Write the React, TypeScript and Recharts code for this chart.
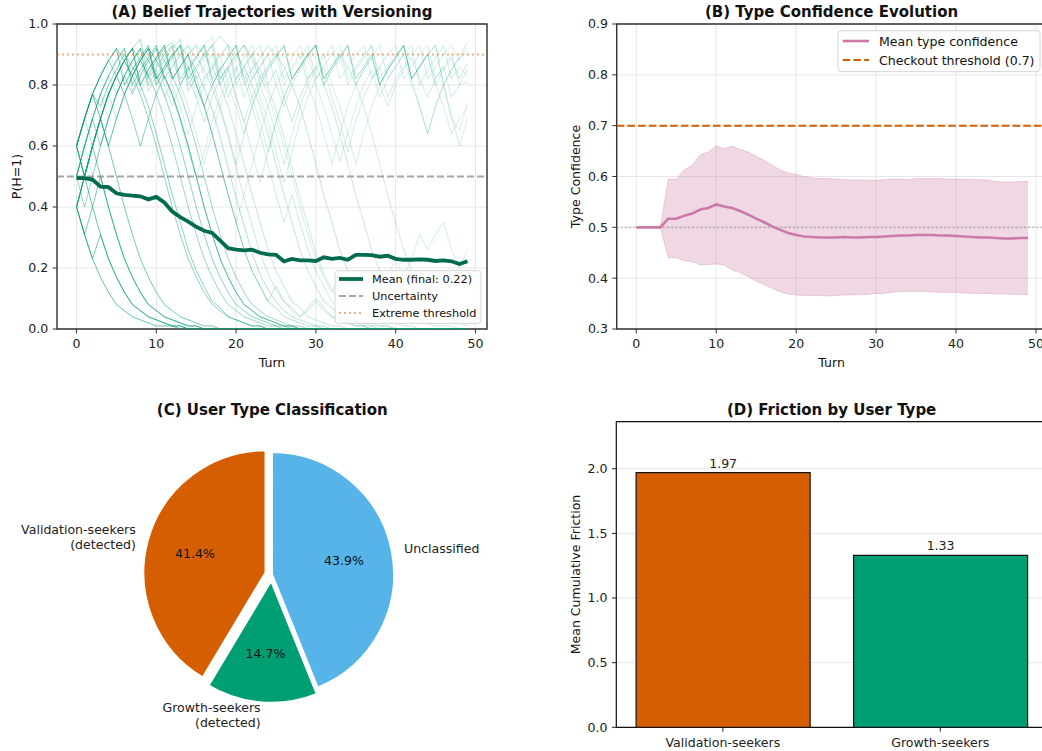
import React from 'react';
import {
  LineChart, Line, XAxis, YAxis, CartesianGrid, ReferenceLine, ReferenceArea,
  ComposedChart, Area, PieChart, Pie, Cell, BarChart, Bar, LabelList,
} from 'recharts';

const FONT = '"DejaVu Sans", Verdana, sans-serif';

// ---------- Panel A: belief trajectories ----------
const meanBelief = [
  0.495, 0.495, 0.49, 0.467, 0.465, 0.445, 0.44, 0.437, 0.435, 0.425,
  0.433, 0.415, 0.385, 0.367, 0.352, 0.335, 0.322, 0.315, 0.29, 0.265,
  0.26, 0.258, 0.26, 0.25, 0.245, 0.243, 0.222, 0.23, 0.225, 0.225,
  0.223, 0.235, 0.23, 0.233, 0.227, 0.243, 0.243, 0.242, 0.237, 0.24,
  0.23, 0.227, 0.227, 0.228, 0.227, 0.223, 0.225, 0.222, 0.213, 0.222,
];

const trajD01 = [0.40,0.31,0.23,0.17,0.12,0.08,0.06,0.04,0.03,0.02, 0.01,0.01,0.01,0,0,0,0,0,0,0, 0,0,0,0,0,0,0,0,0,0, 0,0,0,0,0,0,0,0,0,0, 0,0,0,0,0,0,0,0,0,0];
const trajD02 = [0.60,0.50,0.40,0.31,0.23,0.17,0.12,0.08,0.06,0.04, 0.03,0.02,0.01,0.01,0,0,0,0,0,0, 0,0,0,0,0,0,0,0,0,0, 0,0,0,0,0,0,0,0,0,0, 0,0,0,0,0,0,0,0,0,0];
const trajD03 = [0.40,0.50,0.60,0.50,0.40,0.31,0.23,0.17,0.12,0.08, 0.06,0.04,0.03,0.02,0.01,0.01,0,0,0,0, 0,0,0,0,0,0,0,0,0,0, 0,0,0,0,0,0,0,0,0,0, 0,0,0,0,0,0,0,0,0,0];
const trajD04 = [0.60,0.69,0.77,0.69,0.60,0.50,0.40,0.31,0.23,0.17, 0.12,0.08,0.06,0.04,0.03,0.02,0.01,0.01,0,0, 0,0,0,0,0,0,0,0,0,0, 0,0,0,0,0,0,0,0,0,0, 0,0,0,0,0,0,0,0,0,0];
const trajD05 = [0.60,0.69,0.77,0.73,0.80,0.85,0.90,0.86,0.80,0.73, 0.64,0.54,0.44,0.35,0.26,0.19,0.14,0.09,0.07,0.04, 0.03,0.02,0.01,0.01,0,0,0,0,0,0, 0,0,0,0,0,0,0,0,0,0, 0,0,0,0,0,0,0,0,0,0];
const trajD06 = [0.40,0.31,0.40,0.50,0.40,0.31,0.23,0.17,0.12,0.08, 0.06,0.04,0.03,0.02,0.01,0.01,0,0,0,0, 0,0,0,0,0,0,0,0,0,0, 0,0,0,0,0,0,0,0,0,0, 0,0,0,0,0,0,0,0,0,0];
const trajD07 = [0.50,0.60,0.69,0.60,0.69,0.77,0.83,0.88,0.92,0.88, 0.83,0.77,0.69,0.60,0.50,0.40,0.31,0.23,0.17,0.12, 0.08,0.06,0.04,0.03,0.02,0.01,0.01,0,0,0, 0,0,0,0,0,0,0,0,0,0, 0,0,0,0,0,0,0,0,0,0];
const trajD08 = [0.60,0.50,0.60,0.69,0.77,0.83,0.77,0.83,0.88,0.92, 0.88,0.83,0.77,0.69,0.60,0.50,0.40,0.31,0.23,0.17, 0.12,0.08,0.06,0.04,0.03,0.02,0.01,0.01,0,0, 0,0,0,0,0,0,0,0,0,0, 0,0,0,0,0,0,0,0,0,0];
const trajD09 = [0.40,0.50,0.60,0.69,0.60,0.69,0.77,0.83,0.88,0.83, 0.88,0.92,0.94,0.90,0.86,0.80,0.73,0.64,0.54,0.44, 0.35,0.26,0.19,0.14,0.09,0.07,0.04,0.03,0.02,0.01, 0.01,0,0,0,0,0,0,0,0,0, 0,0,0,0,0,0,0,0,0,0];
const trajD10 = [0.60,0.69,0.60,0.69,0.77,0.83,0.88,0.83,0.88,0.92, 0.82,0.86,0.90,0.93,0.89,0.85,0.79,0.72,0.63,0.53, 0.43,0.34,0.25,0.18,0.13,0.09,0.06,0.04,0.03,0.02, 0.01,0.01,0,0,0,0,0,0,0,0, 0,0,0,0,0,0,0,0,0,0];
const trajD11 = [0.50,0.60,0.69,0.77,0.83,0.77,0.83,0.88,0.92,0.78, 0.83,0.88,0.92,0.95,0.82,0.86,0.90,0.93,0.96,0.93, 0.90,0.86,0.80,0.73,0.64,0.54,0.44,0.35,0.26,0.19, 0.14,0.09,0.07,0.04,0.03,0.02,0.01,0.01,0,0, 0,0,0,0,0,0,0,0,0,0];
const trajD12 = [0.40,0.50,0.60,0.69,0.77,0.69,0.77,0.83,0.88,0.92, 0.80,0.85,0.89,0.93,0.78,0.83,0.73,0.80,0.85,0.89, 0.93,0.80,0.85,0.89,0.93,0.90,0.86,0.80,0.73,0.64, 0.54,0.44,0.35,0.26,0.19,0.14,0.09,0.07,0.04,0.03, 0.02,0.01,0.01,0,0,0,0,0,0,0];
const trajD13 = [0.60,0.50,0.60,0.69,0.60,0.69,0.77,0.69,0.60,0.69, 0.77,0.83,0.77,0.69,0.60,0.50,0.40,0.31,0.23,0.17, 0.12,0.08,0.06,0.04,0.03,0.02,0.01,0.01,0,0, 0,0,0,0,0,0,0,0,0,0, 0,0,0,0,0,0,0,0,0,0];
const trajD14 = [0.50,0.60,0.69,0.77,0.83,0.88,0.92,0.78,0.83,0.88, 0.92,0.80,0.73,0.80,0.85,0.89,0.93,0.82,0.86,0.76, 0.82,0.86,0.90,0.93,0.80,0.85,0.76,0.68,0.76,0.82, 0.86,0.80,0.73,0.64,0.54,0.44,0.35,0.26,0.19,0.14, 0.09,0.07,0.04,0.03,0.02,0.01,0.01,0.01,0,0];
const trajD15 = [0.40,0.50,0.60,0.69,0.77,0.83,0.88,0.92,0.80,0.85, 0.89,0.93,0.82,0.86,0.90,0.80,0.73,0.64,0.54,0.44, 0.35,0.26,0.19,0.14,0.09,0.14,0.09,0.07,0.04,0.07, 0.10,0.07,0.04,0.03,0.02,0.01,0.01,0,0,0, 0,0,0,0,0,0,0,0,0,0];
const trajD16 = [0.50,0.40,0.50,0.60,0.69,0.77,0.83,0.77,0.83,0.88, 0.92,0.88,0.83,0.77,0.69,0.60,0.50,0.40,0.31,0.23, 0.17,0.12,0.08,0.06,0.04,0.03,0.02,0.01,0.01,0, 0,0,0,0,0,0,0,0,0,0, 0,0,0,0,0,0,0,0,0,0];
const trajD17 = [0.60,0.69,0.77,0.83,0.88,0.92,0.88,0.83,0.77,0.69, 0.60,0.50,0.40,0.31,0.23,0.17,0.12,0.08,0.06,0.04, 0.03,0.02,0.01,0.01,0,0,0,0,0,0, 0,0,0,0,0,0,0,0,0,0, 0,0,0,0,0,0,0,0,0,0];
const trajD18 = [0.50,0.60,0.69,0.77,0.83,0.88,0.92,0.80,0.85,0.89, 0.93,0.82,0.86,0.90,0.93,0.89,0.85,0.79,0.72,0.63, 0.53,0.43,0.34,0.25,0.18,0.13,0.09,0.06,0.04,0.06, 0.09,0.06,0.04,0.03,0.02,0.01,0.01,0,0,0, 0,0,0,0,0,0,0,0,0,0];
const trajD19 = [0.40,0.31,0.23,0.31,0.23,0.17,0.12,0.08,0.06,0.04, 0.03,0.02,0.01,0.01,0,0,0,0,0,0, 0,0,0,0,0,0,0,0,0,0, 0,0,0,0,0,0,0,0,0,0, 0,0,0,0,0,0,0,0,0,0];
const trajD20 = [0.60,0.69,0.77,0.83,0.88,0.83,0.88,0.92,0.88,0.83, 0.77,0.69,0.60,0.50,0.40,0.31,0.23,0.17,0.12,0.08, 0.06,0.04,0.03,0.02,0.01,0.01,0,0,0,0, 0,0,0,0,0,0,0,0,0,0, 0,0,0,0,0,0,0,0,0,0];
const trajD21 = [0.60,0.69,0.77,0.83,0.88,0.92,0.80,0.85,0.89,0.93, 0.82,0.86,0.90,0.93,0.80,0.85,0.89,0.93,0.82,0.86, 0.90,0.93,0.89,0.85,0.79,0.72,0.63,0.53,0.43,0.34, 0.25,0.18,0.13,0.09,0.06,0.04,0.03,0.02,0.01,0.01, 0,0,0,0,0,0,0,0,0,0];
const trajD22 = [0.40,0.50,0.60,0.69,0.77,0.83,0.88,0.92,0.80,0.85, 0.89,0.93,0.82,0.86,0.90,0.93,0.90,0.86,0.80,0.73, 0.64,0.54,0.44,0.35,0.26,0.19,0.14,0.09,0.07,0.04, 0.03,0.02,0.01,0.01,0,0,0,0,0,0, 0,0,0,0,0,0,0,0,0,0];

const trajU01 = [0.60,0.69,0.77,0.83,0.88,0.92,0.80,0.85,0.89,0.93, 0.82,0.86,0.90,0.93,0.82,0.76,0.82,0.86,0.90,0.93, 0.80,0.85,0.76,0.82,0.86,0.90,0.93,0.82,0.86,0.90, 0.93,0.80,0.85,0.89,0.93,0.82,0.86,0.90,0.80,0.85, 0.89,0.93,0.82,0.86,0.90,0.93,0.80,0.85,0.89,0.94];
const trajU02 = [0.50,0.60,0.69,0.77,0.69,0.77,0.83,0.88,0.92,0.80, 0.85,0.89,0.93,0.82,0.86,0.76,0.68,0.76,0.82,0.86, 0.90,0.93,0.82,0.86,0.90,0.80,0.73,0.80,0.85,0.89, 0.93,0.82,0.86,0.90,0.93,0.80,0.85,0.89,0.80,0.85, 0.89,0.93,0.82,0.86,0.90,0.80,0.85,0.89,0.82,0.87];
const trajU03 = [0.40,0.50,0.60,0.69,0.77,0.83,0.88,0.92,0.78,0.83, 0.88,0.92,0.80,0.73,0.64,0.73,0.80,0.85,0.89,0.93, 0.82,0.86,0.90,0.80,0.73,0.64,0.54,0.64,0.73,0.80, 0.85,0.89,0.93,0.82,0.86,0.90,0.93,0.82,0.86,0.76, 0.82,0.86,0.90,0.93,0.82,0.86,0.90,0.93,0.88,0.91];
const trajU04 = [0.60,0.69,0.77,0.69,0.77,0.83,0.88,0.92,0.95,0.82, 0.86,0.90,0.93,0.80,0.85,0.89,0.93,0.96,0.82,0.86, 0.76,0.68,0.58,0.48,0.58,0.68,0.76,0.82,0.86,0.90, 0.93,0.80,0.85,0.89,0.93,0.82,0.86,0.90,0.80,0.73, 0.80,0.85,0.89,0.82,0.76,0.82,0.86,0.76,0.80,0.81];
const trajU05 = [0.50,0.60,0.50,0.60,0.69,0.77,0.83,0.88,0.92,0.80, 0.85,0.76,0.82,0.86,0.90,0.93,0.82,0.86,0.90,0.80, 0.73,0.64,0.73,0.80,0.85,0.89,0.93,0.82,0.86,0.90, 0.80,0.73,0.64,0.55,0.64,0.73,0.80,0.85,0.76,0.82, 0.86,0.90,0.80,0.73,0.64,0.73,0.80,0.69,0.65,0.74];
const trajU06 = [0.40,0.50,0.60,0.69,0.77,0.83,0.88,0.83,0.88,0.92, 0.80,0.85,0.89,0.93,0.82,0.86,0.90,0.93,0.80,0.85, 0.76,0.68,0.76,0.68,0.58,0.68,0.76,0.82,0.86,0.90, 0.93,0.82,0.86,0.90,0.80,0.85,0.89,0.93,0.82,0.86, 0.90,0.93,0.82,0.73,0.64,0.73,0.80,0.70,0.60,0.69];
const trajU07 = [0.60,0.50,0.60,0.69,0.77,0.83,0.77,0.83,0.88,0.92, 0.80,0.85,0.89,0.80,0.73,0.64,0.54,0.64,0.73,0.80, 0.85,0.89,0.93,0.82,0.86,0.90,0.80,0.85,0.89,0.93, 0.82,0.86,0.76,0.68,0.58,0.68,0.76,0.82,0.86,0.90, 0.93,0.82,0.86,0.90,0.93,0.82,0.86,0.90,0.80,0.85];
const trajU08 = [0.50,0.60,0.69,0.77,0.83,0.88,0.92,0.80,0.85,0.89, 0.93,0.82,0.76,0.68,0.58,0.50,0.58,0.68,0.76,0.82, 0.86,0.76,0.82,0.86,0.90,0.93,0.82,0.86,0.90,0.80, 0.73,0.64,0.54,0.64,0.73,0.80,0.85,0.89,0.93,0.82, 0.86,0.90,0.93,0.80,0.85,0.89,0.93,0.82,0.86,0.83];
const trajU09 = [0.60,0.69,0.77,0.83,0.77,0.83,0.88,0.92,0.80,0.85, 0.89,0.93,0.82,0.86,0.90,0.80,0.73,0.64,0.54,0.44, 0.35,0.44,0.54,0.64,0.73,0.80,0.85,0.89,0.93,0.82, 0.86,0.90,0.80,0.73,0.64,0.54,0.64,0.73,0.80,0.85, 0.89,0.93,0.82,0.86,0.90,0.80,0.73,0.64,0.69,0.73];
const trajU10 = [0.40,0.50,0.60,0.69,0.77,0.83,0.88,0.92,0.95,0.82, 0.86,0.90,0.93,0.82,0.86,0.90,0.93,0.80,0.85,0.89, 0.93,0.82,0.86,0.76,0.68,0.58,0.48,0.58,0.68,0.76, 0.82,0.86,0.90,0.93,0.82,0.86,0.90,0.93,0.80,0.85, 0.89,0.93,0.82,0.86,0.90,0.93,0.80,0.85,0.89,0.92];

const trajM01 = [0.60,0.69,0.77,0.83,0.88,0.92,0.80,0.85,0.89,0.93, 0.82,0.86,0.90,0.80,0.85,0.89,0.93,0.82,0.73,0.64, 0.54,0.64,0.73,0.80,0.85,0.89,0.93,0.82,0.86,0.90, 0.93,0.82,0.86,0.90,0.86,0.80,0.73,0.64,0.54,0.44, 0.35,0.26,0.19,0.14,0.09,0.07,0.04,0.03,0.02,0.01];
const trajM02 = [0.50,0.60,0.69,0.77,0.83,0.88,0.92,0.80,0.85,0.89, 0.93,0.82,0.86,0.90,0.93,0.82,0.86,0.90,0.80,0.85, 0.89,0.93,0.88,0.83,0.77,0.69,0.60,0.50,0.40,0.31, 0.23,0.17,0.12,0.17,0.12,0.08,0.12,0.17,0.12,0.17, 0.23,0.17,0.23,0.31,0.26,0.31,0.35,0.26,0.20,0.26];
const trajM03 = [0.40,0.50,0.60,0.69,0.77,0.83,0.88,0.92,0.80,0.85, 0.89,0.93,0.82,0.86,0.90,0.80,0.73,0.80,0.85,0.89, 0.93,0.82,0.73,0.64,0.54,0.44,0.35,0.44,0.35,0.26, 0.19,0.14,0.09,0.07,0.04,0.03,0.02,0.01,0.01,0.01, 0,0,0,0,0,0,0,0,0,0];

const trajectories = [
  trajD01, trajD02, trajD03, trajD04, trajD05, trajD06, trajD07, trajD08, trajD13, trajD16,
  trajD17, trajD19, trajD20,
  trajD09, trajD10, trajD11, trajD12, trajD14, trajD15, trajD18, trajD21, trajD22,
  trajU01, trajU02, trajU03, trajU04, trajU05, trajU06, trajU07, trajU08, trajU09, trajU10,
  trajM01, trajM02, trajM03,
];
// line opacity per trajectory (style)
const trajOpacity = [
  0.6, 0.6, 0.55, 0.55, 0.45, 0.55, 0.45, 0.45, 0.45, 0.4,
  0.45, 0.55, 0.4,
  0.3, 0.3, 0.25, 0.25, 0.22, 0.25, 0.22, 0.22, 0.25,
  0.2, 0.2, 0.18, 0.18, 0.16, 0.18, 0.18, 0.18, 0.16, 0.18,
  0.2, 0.18, 0.2,
];

const beliefData = meanBelief.map((m, i) => {
  const row: Record<string, number> = { turn: i, mean: m };
  trajectories.forEach((tr, k) => { row['s' + k] = tr[i]; });
  return row;
});

// ---------- Panel B: type confidence ----------
const confMean = [
  0.50, 0.50, 0.50, 0.50, 0.517, 0.517, 0.523, 0.527, 0.535, 0.538,
  0.545, 0.541, 0.538, 0.532, 0.525, 0.517, 0.51, 0.502, 0.495, 0.489,
  0.485, 0.482, 0.481, 0.48, 0.48, 0.48, 0.481, 0.48, 0.48, 0.481,
  0.481, 0.482, 0.483, 0.484, 0.484, 0.485, 0.485, 0.485, 0.484, 0.484,
  0.483, 0.482, 0.481, 0.48, 0.48, 0.479, 0.478, 0.478, 0.479, 0.479,
];
const confUpper = [
  0.50, 0.50, 0.50, 0.50, 0.595, 0.595, 0.613, 0.622, 0.643, 0.648,
  0.66, 0.655, 0.66, 0.653, 0.648, 0.64, 0.632, 0.622, 0.613, 0.607,
  0.604, 0.60, 0.597, 0.596, 0.596, 0.595, 0.594, 0.593, 0.593, 0.593,
  0.592, 0.594, 0.595, 0.595, 0.594, 0.596, 0.596, 0.596, 0.596, 0.595,
  0.595, 0.594, 0.594, 0.594, 0.593, 0.59, 0.589, 0.589, 0.59, 0.591,
];
const confLower = [
  0.50, 0.50, 0.50, 0.50, 0.44, 0.44, 0.434, 0.433, 0.426, 0.427,
  0.428, 0.426, 0.416, 0.411, 0.403, 0.394, 0.387, 0.38, 0.373, 0.369,
  0.367, 0.366, 0.366, 0.366, 0.365, 0.366, 0.367, 0.367, 0.368, 0.368,
  0.37, 0.37, 0.372, 0.374, 0.374, 0.374, 0.374, 0.373, 0.372, 0.372,
  0.372, 0.371, 0.37, 0.37, 0.37, 0.369, 0.369, 0.368, 0.368, 0.367,
];
const confData = confMean.map((m, i) => ({ turn: i, mean: m, band: [confLower[i], confUpper[i]] }));

// ---------- Panel C: pie ----------
const pieLabels = ['Validation-seekers\n(detected)', 'Growth-seekers\n(detected)', 'Unclassified'];
const pieValues = [41.4, 14.7, 43.9];
const pieColors = ['#D55E00', '#009E73', '#56B4E9'];
const pieExplode = [0.05, 0.05, 0];
const pieData = pieLabels.map((name, i) => ({ name, value: pieValues[i] }));

// ---------- Panel D: bars ----------
const frictionCategories = ['Validation-seekers', 'Growth-seekers'];
const frictionValues = [1.97, 1.33];
const frictionColors = ['#D55E00', '#009E73'];
const frictionData = frictionCategories.map((c, i) => ({ x: i, v: frictionValues[i], name: c }));

const TICK = { fontSize: 12.56, fill: '#222', fontFamily: FONT };
const GRID = '#e6e6e6';

function PanelA() {
  return (
    <div style={{ position: 'absolute', left: 0, top: 0 }}>
      <LineChart width={520} height={370} data={beliefData} margin={{ top: 24, right: 33, bottom: 0, left: 0 }}>
        <CartesianGrid stroke={GRID} strokeWidth={1} />
        <XAxis type="number" dataKey="turn" domain={[-2.45, 51.45]} allowDataOverflow ticks={[0, 10, 20, 30, 40, 50]}
          height={41} tickSize={4.4} tickMargin={5.9} tick={TICK} axisLine={false} tickLine={{ stroke: '#333' }} />
        <YAxis type="number" domain={[0, 1]} allowDataOverflow ticks={[0, 0.2, 0.4, 0.6, 0.8, 1]} width={57}
          tickFormatter={(v: number) => v.toFixed(1)} tickSize={4.4} tickMargin={4.4} tick={TICK} axisLine={false} tickLine={{ stroke: '#333' }} />
        {trajectories.map((_, k) => (
          <Line key={k} type="linear" dataKey={'s' + k} stroke="#009E73" strokeOpacity={trajOpacity[k]} strokeWidth={1}
            dot={false} activeDot={false} isAnimationActive={false} />
        ))}
        <ReferenceLine y={0.5} stroke="#808080" strokeOpacity={0.7} strokeDasharray="7 3" strokeWidth={1.9} />
        <ReferenceLine y={0.9} stroke="#D55E00" strokeOpacity={0.5} strokeDasharray="1.9 3.1" strokeWidth={1.9} />
        <Line type="linear" dataKey="mean" stroke="#006B4F" strokeWidth={3.8} dot={false} activeDot={false} isAnimationActive={false} />
        <ReferenceArea x1={-2.45} x2={51.45} y1={0} y2={1} fill="none" stroke="#333" strokeWidth={1.4} ifOverflow="visible" />
      </LineChart>
    </div>
  );
}

function PanelB() {
  return (
    <div style={{ position: 'absolute', left: 520, top: 0 }}>
      <ComposedChart width={540} height={370} data={confData} margin={{ top: 24, right: 12.4, bottom: 0, left: 0 }}>
        <CartesianGrid stroke={GRID} strokeWidth={1} />
        <XAxis type="number" dataKey="turn" domain={[-2.45, 51.45]} allowDataOverflow ticks={[0, 10, 20, 30, 40, 50]}
          height={41} tickSize={4.4} tickMargin={5.9} tick={TICK} axisLine={false} tickLine={{ stroke: '#333' }} />
        <YAxis type="number" domain={[0.3, 0.9]} allowDataOverflow ticks={[0.3, 0.4, 0.5, 0.6, 0.7, 0.8, 0.9]} width={96.7}
          tickFormatter={(v: number) => v.toFixed(1)} tickSize={4.4} tickMargin={4.4} tick={TICK} axisLine={false} tickLine={{ stroke: '#333' }} />
        <Area type="linear" dataKey="band" fill="#CC79A7" fillOpacity={0.3} stroke="#CC79A7" strokeOpacity={0.3} strokeWidth={1}
          dot={false} activeDot={false} isAnimationActive={false} />
        <ReferenceLine y={0.7} stroke="#D55E00" strokeDasharray="7.5 3.2" strokeWidth={2} />
        <ReferenceLine y={0.5} stroke="#808080" strokeOpacity={0.5} strokeDasharray="1.6 2.6" strokeWidth={1.6} />
        <Line type="linear" dataKey="mean" stroke="#CC79A7" strokeWidth={2.6} dot={false} activeDot={false} isAnimationActive={false} />
        <ReferenceArea x1={-2.45} x2={51.45} y1={0.3} y2={0.9} fill="none" stroke="#333" strokeWidth={1.4} ifOverflow="visible" />
      </ComposedChart>
    </div>
  );
}

const PIE_R = 122.6;
const PIE_CX = 271.7;
const PIE_CY = 184.3;

function pieGeometry() {
  const total = pieValues.reduce((a, b) => a + b, 0);
  let start = 90;
  return pieValues.map((v, i) => {
    const span = (v / total) * 360;
    const mid = start + span / 2;
    start += span;
    const rad = (mid * Math.PI) / 180;
    const off = pieExplode[i] * PIE_R;
    return {
      mid,
      pct: (v / total) * 100,
      cx: PIE_CX + off * Math.cos(rad),
      cy: PIE_CY - off * Math.sin(rad),
    };
  });
}

function PanelC() {
  const geo = pieGeometry();
  const makeLabel = (own: number) => (p: any) => {
    if (p.index !== own) return <g />;
    const g = geo[own];
    const rad = (g.mid * Math.PI) / 180;
    const cos = Math.cos(rad);
    const sin = Math.sin(rad);
    const px = g.cx + PIE_R * 0.6 * cos;
    const py = g.cy - PIE_R * 0.6 * sin;
    const lx = g.cx + PIE_R * 1.1 * cos;
    const ly = g.cy - PIE_R * 1.1 * sin;
    const lines = pieLabels[own].split('\n');
    const anchor = cos >= 0 ? 'start' : 'end';
    const lh = 15;
    const y0 = ly - ((lines.length - 1) * lh) / 2;
    return (
      <g>
        <text x={px} y={py} textAnchor="middle" dominantBaseline="central" fontSize={12.56} fontFamily={FONT} fill="#111">
          {g.pct.toFixed(1)}%
        </text>
        {lines.map((ln, k) => (
          <text key={k} x={lx} y={y0 + k * lh} textAnchor={anchor} dominantBaseline="central" fontSize={12.56} fontFamily={FONT} fill="#222">
            {ln}
          </text>
        ))}
      </g>
    );
  };
  return (
    <div style={{ position: 'absolute', left: 0, top: 390 }}>
      <PieChart width={520} height={361} margin={{ top: 0, right: 0, bottom: 0, left: 0 }}>
        {pieValues.map((_, i) => (
          <Pie key={i} data={pieData} dataKey="value" nameKey="name" cx={geo[i].cx} cy={geo[i].cy} innerRadius={0} outerRadius={PIE_R}
            startAngle={90} endAngle={450} isAnimationActive={false} label={makeLabel(i)} labelLine={false}>
            {pieData.map((_, j) => (
              <Cell key={j} fill={j === i ? pieColors[j] : 'transparent'} stroke={j === i ? '#ffffff' : 'none'} strokeWidth={2.5} />
            ))}
          </Pie>
        ))}
      </PieChart>
    </div>
  );
}

function PanelD() {
  return (
    <div style={{ position: 'absolute', left: 520, top: 390 }}>
      <BarChart width={540} height={361} data={frictionData} margin={{ top: 31.7, right: 13.1, bottom: 0, left: 0 }}>
        <CartesianGrid stroke={GRID} strokeWidth={1} vertical={false} />
        <XAxis type="number" dataKey="x" domain={[-0.49, 1.49]} allowDataOverflow ticks={[0, 1]} height={23.7}
          tickFormatter={(v: number) => frictionCategories[v] ?? ''} tickSize={4.4} tickMargin={5.9} tick={TICK}
          axisLine={false} tickLine={{ stroke: '#222' }} />
        <YAxis type="number" domain={[0, 2.364]} allowDataOverflow ticks={[0, 0.5, 1, 1.5, 2]} width={96.3}
          tickFormatter={(v: number) => v.toFixed(1)} tickSize={4.4} tickMargin={4.4} tick={TICK} axisLine={false} tickLine={{ stroke: '#222' }} />
        <Bar dataKey="v" barSize={174} isAnimationActive={false} stroke="#111" strokeWidth={1.2}>
          {frictionData.map((_, i) => (
            <Cell key={i} fill={frictionColors[i]} />
          ))}
          <LabelList dataKey="v" position="top" offset={5} fill="#222" fontSize={12.56} fontFamily={FONT}
            formatter={(v: any) => Number(v).toFixed(2)} />
        </Bar>
        <ReferenceArea x1={-0.49} x2={1.49} y1={0} y2={2.364} fill="none" stroke="#111" strokeWidth={1.2} ifOverflow="visible" />
      </BarChart>
    </div>
  );
}

function Overlay() {
  const t = { fontFamily: FONT, fill: '#111' } as const;
  return (
    <svg width={1042} height={751} style={{ position: 'absolute', left: 0, top: 0, pointerEvents: 'none' }}>
      <text x={272} y={16.5} textAnchor="middle" fontSize={15} fontWeight="bold" {...t}>(A) Belief Trajectories with Versioning</text>
      <text x={831.6} y={16.5} textAnchor="middle" fontSize={15} fontWeight="bold" {...t}>(B) Type Confidence Evolution</text>
      <text x={272.3} y={414.5} textAnchor="middle" fontSize={15} fontWeight="bold" {...t}>(C) User Type Classification</text>
      <text x={831.6} y={414.5} textAnchor="middle" fontSize={15} fontWeight="bold" {...t}>(D) Friction by User Type</text>

      <text x={272} y={366.5} textAnchor="middle" fontSize={12.56} {...t}>Turn</text>
      <text x={831.6} y={366.5} textAnchor="middle" fontSize={12.56} {...t}>Turn</text>
      <text transform="translate(20.5,176.5) rotate(-90)" textAnchor="middle" fontSize={12.56} {...t}>P(H=1)</text>
      <text transform="translate(579.5,176.5) rotate(-90)" textAnchor="middle" fontSize={12.56} {...t}>Type Confidence</text>
      <text transform="translate(579.5,574.5) rotate(-90)" textAnchor="middle" fontSize={12.56} {...t}>Mean Cumulative Friction</text>

      {/* Legend A */}
      <rect x={335} y={270.7} width={146} height={52.6} rx={3} fill="#fff" fillOpacity={0.85} stroke="#d4d4d4" strokeWidth={1} />
      <line x1={339} x2={363} y1={279} y2={279} stroke="#006B4F" strokeWidth={3.8} />
      <text x={372} y={279} dominantBaseline="central" fontSize={11.3} {...t}>Mean (final: 0.22)</text>
      <line x1={339} x2={363} y1={296} y2={296} stroke="#808080" strokeOpacity={0.7} strokeWidth={1.9} strokeDasharray="7 3" />
      <text x={372} y={296} dominantBaseline="central" fontSize={11.3} {...t}>Uncertainty</text>
      <line x1={339} x2={363} y1={313} y2={313} stroke="#D55E00" strokeOpacity={0.5} strokeWidth={1.9} strokeDasharray="1.9 3.1" />
      <text x={372} y={313} dominantBaseline="central" fontSize={11.3} {...t}>Extreme threshold</text>

      {/* Legend B */}
      <rect x={838} y={30.7} width={202} height={41} rx={3} fill="#fff" fillOpacity={0.85} stroke="#d4d4d4" strokeWidth={1} />
      <line x1={842.7} x2={869} y1={41} y2={41} stroke="#CC79A7" strokeWidth={2.6} />
      <text x={879} y={41} dominantBaseline="central" fontSize={12.56} {...t}>Mean type confidence</text>
      <line x1={842.7} x2={869} y1={60} y2={60} stroke="#D55E00" strokeWidth={2} strokeDasharray="7.5 3.2" />
      <text x={879} y={60} dominantBaseline="central" fontSize={12.56} {...t}>Checkout threshold (0.7)</text>
    </svg>
  );
}

export default function App() {
  return (
    <div style={{ position: 'absolute', left: 0, top: 0, width: 1042, height: 751, overflow: 'hidden', background: '#fff', fontFamily: FONT }}>
      <PanelA />
      <PanelB />
      <PanelC />
      <PanelD />
      <Overlay />
    </div>
  );
}
